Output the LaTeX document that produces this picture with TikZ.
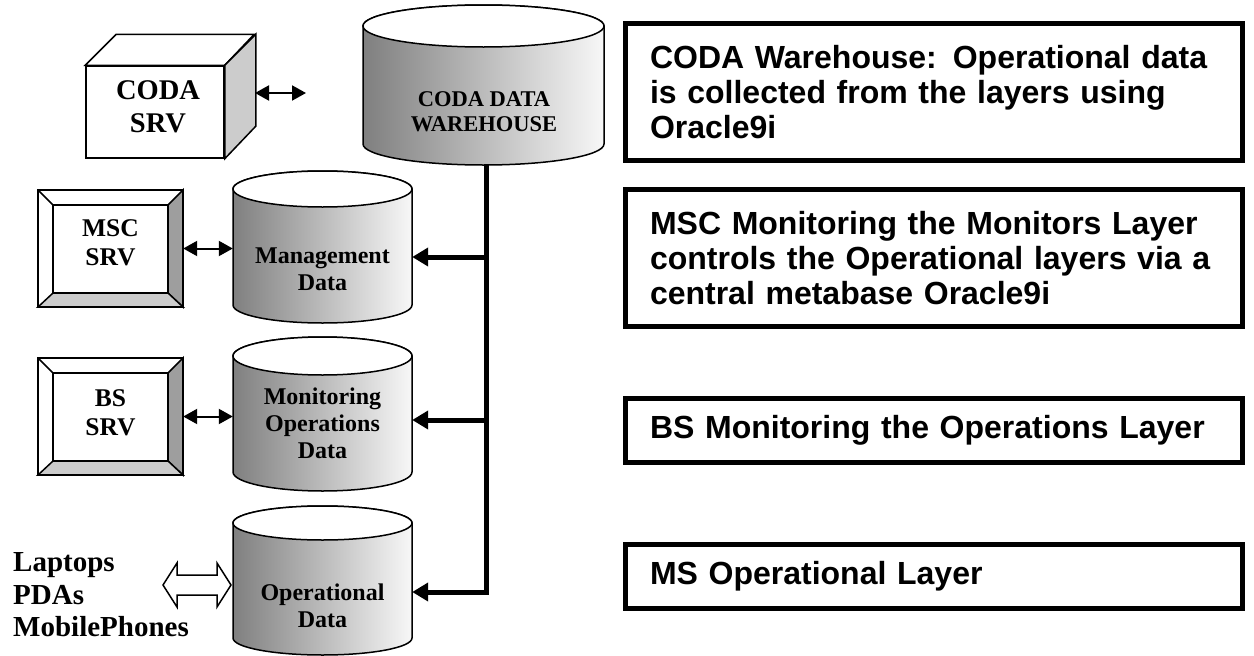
\documentclass[tikz,border=0pt]{standalone}
\usepackage{fontspec}
\setmainfont{Liberation Serif}
\newfontfamily\arialb{Liberation Sans}
\usetikzlibrary{arrows.meta}
\newcommand{\dbcyl}[5]{%
  \pgfmathsetmacro\rx{(#2-#1)/2}%
  \pgfmathsetmacro\cx{(#1+#2)/2}%
  \shadedraw[cylbody] (#1,#3) -- (#1,#4) arc[start angle=180,end angle=360,x radius=\rx pt,y radius=#5pt] -- (#2,#3) arc[start angle=0,end angle=180,x radius=\rx pt,y radius=#5pt] -- cycle;
  \draw[cyltop] (\cx,#3) ellipse[x radius=\rx pt,y radius=#5pt];}
\newcommand{\bevelbox}[1]{%
  \fill[white] (#1.north west) rectangle (#1.south east);
  \filldraw[fill=black!38, thinline] (#1.north east) -- (#1.south east) -- ([shift={(-15,-14)}]#1.south east) -- ([shift={(-15,15)}]#1.north east) -- cycle;
  \filldraw[fill=black!20, thinline] (#1.south west) -- (#1.south east) -- ([shift={(-15,-14)}]#1.south east) -- ([shift={(15,-14)}]#1.south west) -- cycle;
  \draw[thinline] (#1.north west) -- ([shift={(15,15)}]#1.north west);
  \draw[thinline] ([shift={(15,15)}]#1.north west) rectangle ([shift={(-15,-14)}]#1.south east);
  \draw[thinline] (#1.north west) rectangle (#1.south east);}
\begin{document}
\begin{tikzpicture}[x=1pt,y=-1pt,line join=miter,
  thinline/.style={line width=1.5pt},
  cylbody/.style={left color=black!50,right color=black!3,draw=black,line width=1.5pt},
  cyltop/.style={fill=white,draw=black,line width=1.5pt},
  cyltext/.style={font=\bfseries\fontsize{24}{27}\selectfont,align=center,inner sep=0pt,minimum width=179pt},
  srvtext/.style={font=\bfseries\fontsize{25.5}{29}\selectfont,align=center,inner sep=0pt},
  dbl/.style={line width=2pt,{Triangle[length=14pt,width=15pt]}-{Triangle[length=14pt,width=15pt]}},
  trunkarrow/.style={line width=5pt,-{Triangle[length=16pt,width=18pt]}},
  infobox/.style={draw,line width=5pt,inner xsep=24.5pt,inner ysep=0pt,minimum width=617pt,text width=568pt,align=left,
    font=\arialb\bfseries\fontsize{32}{35}\selectfont}]
\useasboundingbox (0,0) rectangle (1254,656);

% ---------- CODA server (cube) ----------
\node[draw,thinline,fill=white,minimum width=138pt,minimum height=92pt,inner sep=0] (coda) at (155,112) {};
\filldraw[fill=white,thinline] (coda.north west) -- ++(31,-31) -- ++(138,0) -- (coda.north east) -- cycle;
\filldraw[fill=black!20,thinline] (coda.north east) -- ++(31,-31) -- ++(0,92) -- (coda.south east) -- cycle;
\node[font=\bfseries\fontsize{28.5}{33}\selectfont,align=center,inner sep=0] (codat) at (158,106.5) {CODA\\SRV};
\coordinate (codaR) at (255,93);
\coordinate (codaE) at (306,93);
\draw[dbl] (codaR) -- (codaE);

% ---------- Warehouse ----------
\dbcyl{363}{604}{26}{144}{21}
\node[font=\bfseries\fontsize{22.5}{25}\selectfont,align=center,inner sep=0,minimum width=241pt] (wh) at (484,112) {CODA DATA\\WAREHOUSE};

% ---------- Layer cylinders ----------
\dbcyl{233}{412}{189}{305}{18}
\node[cyltext] (mgmt) at (322.5,269) {Management\\Data};
\dbcyl{233}{412}{356}{472}{19}
\node[cyltext] (mon) at (322.5,423.5) {Monitoring\\Operations\\Data};
\dbcyl{233}{412}{523}{638}{17}
\node[cyltext] (ops) at (322.5,606) {Operational\\Data};

% ---------- Servers ----------
\node[minimum width=145pt,minimum height=117pt,inner sep=0] (msc) at (110.5,248.5) {};
\bevelbox{msc}
\node[srvtext] (msct) at (110.5,243) {MSC\\SRV};
\node[minimum width=145pt,minimum height=117pt,inner sep=0] (bs) at (110.5,416.5) {};
\bevelbox{bs}
\node[srvtext] (bst) at (110.5,413) {BS\\SRV};
\draw[dbl] (msc.east) -- (msc.east -| mgmt.west);
\draw[dbl] (bs.east) -- (bs.east -| mon.west);

% ---------- Devices ----------
\node[anchor=west,align=left,font=\bfseries\fontsize{29}{32.5}\selectfont,inner sep=0] (dev) at (13,595) {Laptops\\PDAs\\MobilePhones};
\filldraw[fill=white,thinline] (163,585) -- (177,563) -- (177,575) -- (217,575) -- (217,563) -- (231,585) -- (217,607) -- (217,595) -- (177,595) -- (177,607) -- cycle;

% ---------- Trunk ----------
\coordinate (whb) at (486,164);
\coordinate (t1) at (486,257);
\coordinate (t2) at (486,420);
\coordinate (t3) at (486,592);
\draw[trunkarrow] (whb) -- (t3) -- (t3 -| ops.east);
\draw[trunkarrow] (t1) -- (t1 -| mgmt.east);
\draw[trunkarrow] (t2) -- (t2 -| mon.east);

% ---------- Info boxes ----------
\node[infobox,minimum height=137pt] (ib1) at (934,92) {\mbox{CODA Warehouse: Operational data}\\\mbox{is collected from the layers using}\\Oracle9i};
\node[infobox,minimum height=137pt] (ib2) at (934,258) {\mbox{MSC Monitoring the Monitors Layer}\\\mbox{controls the Operational layers via a}\\central metabase Oracle9i};
\node[infobox,minimum height=64pt] (ib3) at (934,430) {\mbox{BS Monitoring the Operations Layer}};
\node[infobox,minimum height=64pt] (ib4) at (934,576.5) {MS Operational Layer};
\end{tikzpicture}
\end{document}
